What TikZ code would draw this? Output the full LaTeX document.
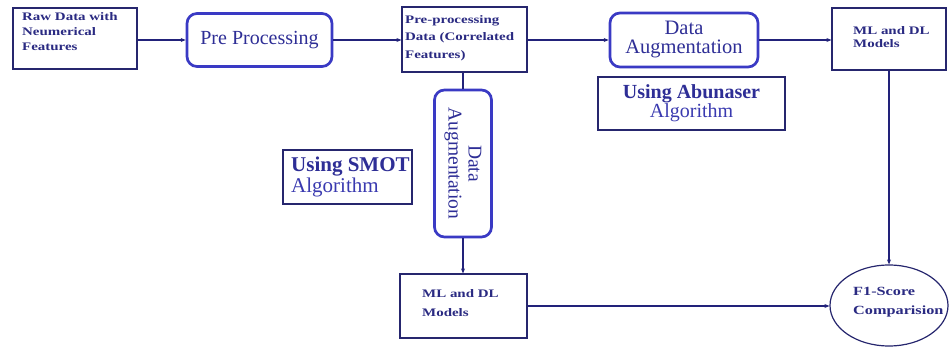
\documentclass[tikz,border=0pt]{standalone}
\usepackage{fontspec}
\setmainfont{Liberation Serif}
\newfontfamily\widefont[FakeStretch=1.3]{Liberation Serif}
\usetikzlibrary{arrows.meta,shapes.geometric}
\definecolor{navy}{HTML}{26266E}
\definecolor{smalltxt}{HTML}{2A2A82}
\definecolor{lineblue}{HTML}{22227A}
\definecolor{thickblue}{HTML}{3A3AC4}
\definecolor{txtblue}{HTML}{2E2E96}
\definecolor{lighttxt}{HTML}{3A3AB0}
\tikzset{
  sqbox/.style={draw=navy, line width=1.2pt, rectangle, inner sep=0pt},
  smalltext/.style={anchor=north west, inner sep=0pt, align=left, text=smalltxt, font=\widefont\bfseries\fontsize{11.5}{#1}\selectfont},
  rbox/.style={draw=thickblue, line width=2.7pt, rectangle, rounded corners=10pt, text=txtblue, align=center, inner sep=2pt},
  notebox/.style={draw=navy, line width=1.1pt, rectangle, text=txtblue, align=center, inner sep=2pt},
  conn/.style={draw=lineblue, line width=1.5pt, -{Stealth[length=5pt,width=4pt]}},
  plain/.style={draw=lineblue, line width=1.5pt},
}
\begin{document}
\begin{tikzpicture}[x=1pt,y=-1pt]
\useasboundingbox (0,0) rectangle (950,347);
\fill[white] (0,0) rectangle (950,347);
% top row
\node[sqbox, minimum width=124pt, minimum height=61pt] (raw) at (75,38.5) {};
\node[smalltext=15] (rawt) at (22,12) {Raw Data with\\Neumerical\\Features};
\node[rbox, minimum width=145pt, minimum height=53pt, font=\fontsize{20}{22}\selectfont] (pre) at (259.5,40) {Pre Processing};
\node[sqbox, minimum width=125pt, minimum height=65pt] (ppd) at (464.5,39.5) {};
\node[smalltext=17.5] (ppdt) at (405,15) {Pre-processing\\Data (Correlated\\Features)};
\node[rbox, minimum width=148pt, minimum height=54pt, font=\fontsize{20.5}{19}\selectfont] (dat) at (684,40) {Data\\Augmentation};
\node[sqbox, minimum width=114pt, minimum height=62pt] (mlt) at (889,39) {};
\node[smalltext=13.5] (mltt) at (853,26) {ML and DL\\Models};
\node[notebox, minimum width=187pt, minimum height=53pt] (abu) at (691.5,103.5) {{\bfseries\fontsize{20}{22}\selectfont Using Abunaser}\\{\color{lighttxt}\fontsize{20}{22}\selectfont Algorithm}};
% vertical augmentation
\node[rbox, rotate=-90, minimum width=147pt, minimum height=57pt, font=\fontsize{19.5}{20}\selectfont] (dav) at (463,163.5) {Data\\Augmentation};
\node[notebox, minimum width=129pt, minimum height=54pt] (smot) at (347.5,177) {};
\node[anchor=west, inner sep=0pt, align=left, text=txtblue] (smott) at (291,177) {{\bfseries\fontsize{21}{21}\selectfont Using SMOT}\\{\color{lighttxt}\fontsize{21}{21}\selectfont Algorithm}};
% bottom
\node[sqbox, minimum width=127pt, minimum height=64pt] (mlb) at (463.5,306) {};
\node[smalltext=19] (mlbt) at (422,289) {ML and DL\\Models};
\node[ellipse, draw=navy, line width=1.2pt, minimum width=118pt, minimum height=81pt, inner sep=0pt] (f1) at (889,305.5) {};
\node[smalltext=19, font=\widefont\bfseries\fontsize{12.5}{19}\selectfont] (f1t) at (853,287) {F1-Score\\Comparision};
% connectors
\draw[conn] (raw.east |- 0,40) -- (pre.west);
\draw[conn] (pre.east) -- (ppd.west |- 0,40);
\draw[conn] (ppd.east |- 0,40) -- (dat.west);
\draw[conn] (dat.east) -- (mlt.west |- 0,40);
\draw[plain] (dav.west |- ppd.south) -- (dav.west);
\draw[conn] (dav.east) -- (dav.east |- mlb.north);
\draw[conn] (mlt.south) -- (f1.north);
\draw[conn] (mlb.east) -- (f1.west |- mlb.east);
\end{tikzpicture}
\end{document}
